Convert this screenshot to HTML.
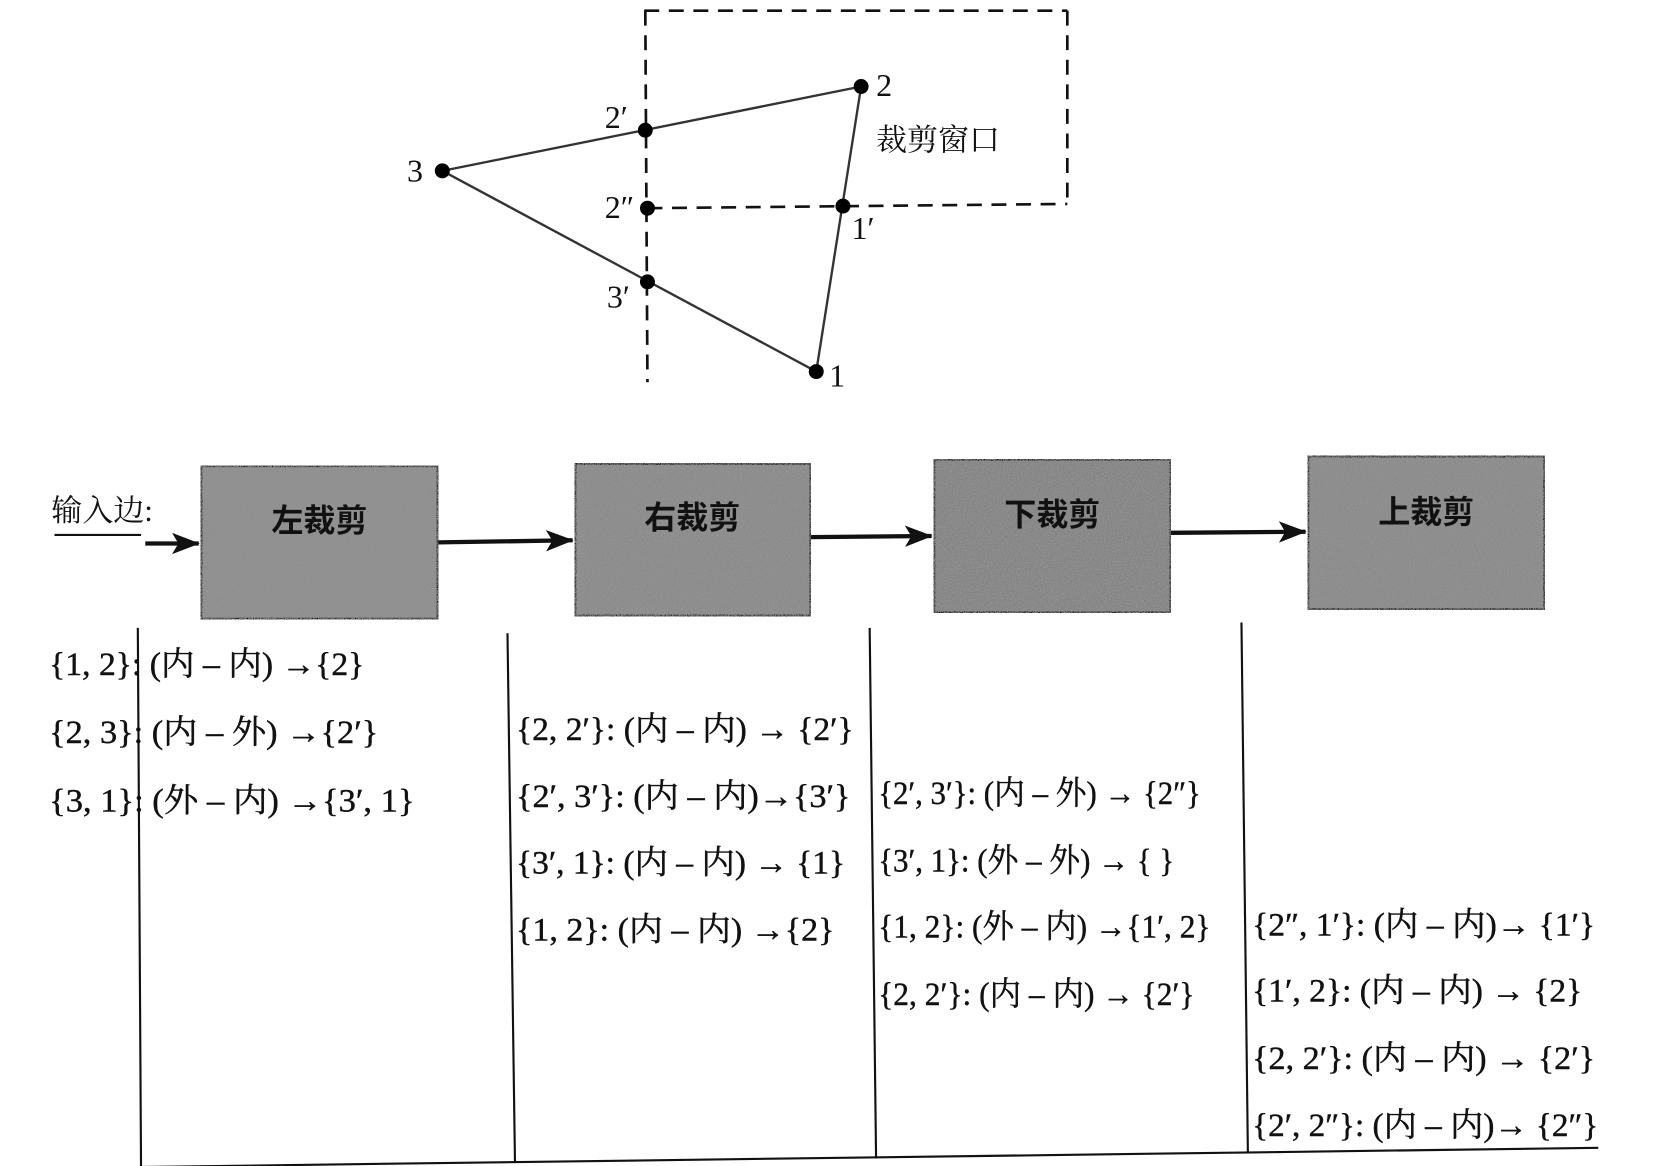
<!DOCTYPE html>
<html><head><meta charset="utf-8"><title>Clipping diagram</title>
<style>
html,body{margin:0;padding:0;background:#fff;}
svg{display:block;}
text{font-family:"Liberation Serif","Noto Serif CJK SC","Noto Sans CJK SC",serif;fill:#111;}
</style></head>
<body>
<svg width="1656" height="1166" viewBox="0 0 1550 1092" preserveAspectRatio="none" xmlns="http://www.w3.org/2000/svg">
<defs>
  <filter id="noise" x="0" y="0" width="100%" height="100%">
    <feTurbulence type="fractalNoise" baseFrequency="0.9" numOctaves="2" seed="4" result="t"/>
    <feColorMatrix type="matrix" values="0 0 0 0 0.3  0 0 0 0 0.3  0 0 0 0 0.3  0 0 0 2 -0.6" in="t" result="n"/>
    <feComposite in="n" in2="SourceGraphic" operator="in" result="m"/>
    <feMerge><feMergeNode in="SourceGraphic"/><feMergeNode in="m"/></feMerge>
  </filter>
  <marker id="arrb" markerWidth="26" markerHeight="20" refX="25" refY="10" orient="auto" markerUnits="userSpaceOnUse">
    <path d="M0,0 L26,10 L0,20 L6,10 Z" fill="#111"/>
  </marker>
</defs>
<g transform="translate(-4,-2)">
<g stroke="#111" stroke-width="2.5" stroke-dasharray="14,9" fill="none">
  <line x1="607" y1="12" x2="1003" y2="12"/>
  <line x1="1003" y1="12" x2="1003" y2="193"/>
  <line x1="610" y1="197" x2="1003" y2="193"/>
  <line x1="608" y1="12" x2="610" y2="360"/>
</g>
<text x="824" y="143" font-size="29">裁剪窗口</text>

<g stroke="#333" stroke-width="2.2" fill="none">
  <line x1="418" y1="162" x2="810" y2="83"/>
  <line x1="810" y1="83" x2="768" y2="350"/>
  <line x1="768" y1="350" x2="418" y2="162"/>
</g>
<g fill="#000">
  <circle cx="810" cy="83" r="7"/><circle cx="608" cy="124" r="7"/>
  <circle cx="418" cy="162" r="7"/><circle cx="610" cy="197" r="7"/>
  <circle cx="793" cy="195" r="7"/><circle cx="610" cy="266" r="7"/>
  <circle cx="768" cy="350" r="7"/>
</g>
<g font-size="30">
  <text x="824" y="92">2</text>
  <text x="570" y="122">2′</text>
  <text x="385" y="172">3</text>
  <text x="570" y="206">2″</text>
  <text x="801" y="226">1′</text>
  <text x="572" y="290">3′</text>
  <text x="780" y="364">1</text>
</g>

<text x="52" y="490" font-size="29">输入边:</text>
<line x1="55" y1="503" x2="136" y2="503" stroke="#111" stroke-width="2"/>

<g stroke="#111" stroke-width="4">
  <line x1="140" y1="511" x2="190" y2="511" marker-end="url(#arrb)"/>
  <line x1="414" y1="510" x2="540" y2="508" marker-end="url(#arrb)"/>
  <line x1="763" y1="505" x2="876" y2="504" marker-end="url(#arrb)"/>
  <line x1="1100" y1="501" x2="1226" y2="500" marker-end="url(#arrb)"/>
</g>

<g>
  <rect x="192" y="438" width="222" height="144" fill="#8e8e8e" stroke="#111" stroke-width="3" filter="url(#noise)"/>
  <text x="303" y="500" font-size="30" font-weight="bold" text-anchor="middle" style="font-family:'Noto Sans CJK SC',sans-serif">左裁剪</text>
</g>
<g>
  <rect x="542" y="436" width="221" height="143" fill="#8a8a8a" stroke="#111" stroke-width="3" filter="url(#noise)"/>
  <text x="652" y="497" font-size="30" font-weight="bold" text-anchor="middle" style="font-family:'Noto Sans CJK SC',sans-serif">右裁剪</text>
</g>
<g>
  <rect x="878" y="432" width="222" height="144" fill="#828282" stroke="#111" stroke-width="3" filter="url(#noise)"/>
  <text x="989" y="494" font-size="30" font-weight="bold" text-anchor="middle" style="font-family:'Noto Sans CJK SC',sans-serif">下裁剪</text>
</g>
<g>
  <rect x="1228" y="429" width="222" height="144" fill="#8a8a8a" stroke="#111" stroke-width="3" filter="url(#noise)"/>
  <text x="1339" y="492" font-size="30" font-weight="bold" text-anchor="middle" style="font-family:'Noto Sans CJK SC',sans-serif">上裁剪</text>
</g>

<g stroke="#111" stroke-width="2">
  <line x1="133" y1="590" x2="136" y2="1095"/>
  <line x1="479" y1="595" x2="486" y2="1090"/>
  <line x1="818" y1="590" x2="824" y2="1087"/>
  <line x1="1166" y1="585" x2="1172" y2="1082"/>
  <line x1="57" y1="1096" x2="1500" y2="1077"/>
</g>

<g font-size="31" stroke="#111" stroke-width="0.4">
  <text x="50" y="634" textLength="295" lengthAdjust="spacingAndGlyphs">{1, 2}: (内 – 内)  →{2}</text>
  <text x="50" y="698" textLength="308" lengthAdjust="spacingAndGlyphs">{2, 3}: (内 – 外)  →{2′}</text>
  <text x="50" y="762" textLength="342" lengthAdjust="spacingAndGlyphs">{3, 1}: (外 – 内)  →{3′, 1}</text>
</g>
<g font-size="31" stroke="#111" stroke-width="0.4">
  <text x="487" y="695" textLength="316" lengthAdjust="spacingAndGlyphs">{2, 2′}: (内 – 内) → {2′}</text>
  <text x="487" y="758" textLength="313" lengthAdjust="spacingAndGlyphs">{2′, 3′}: (内 – 内)→{3′}</text>
  <text x="487" y="820" textLength="308" lengthAdjust="spacingAndGlyphs">{3′, 1}: (内 – 内) → {1}</text>
  <text x="487" y="883" textLength="298" lengthAdjust="spacingAndGlyphs">{1, 2}: (内 – 内)  →{2}</text>
</g>
<g font-size="31" stroke="#111" stroke-width="0.4">
  <text x="826" y="755" textLength="302" lengthAdjust="spacingAndGlyphs">{2′, 3′}: (内 – 外) → {2″}</text>
  <text x="826" y="818" textLength="277" lengthAdjust="spacingAndGlyphs">{3′, 1}: (外 – 外) → { }</text>
  <text x="826" y="880" textLength="311" lengthAdjust="spacingAndGlyphs">{1, 2}: (外 – 内) →{1′, 2}</text>
  <text x="826" y="943" textLength="296" lengthAdjust="spacingAndGlyphs">{2, 2′}: (内 – 内) → {2′}</text>
</g>
<g font-size="31" stroke="#111" stroke-width="0.4">
  <text x="1176" y="878" textLength="321" lengthAdjust="spacingAndGlyphs">{2″, 1′}: (内 – 内)→ {1′}</text>
  <text x="1176" y="940" textLength="309" lengthAdjust="spacingAndGlyphs">{1′, 2}: (内 – 内) → {2}</text>
  <text x="1176" y="1003" textLength="321" lengthAdjust="spacingAndGlyphs">{2, 2′}: (内 – 内) → {2′}</text>
  <text x="1176" y="1066" textLength="324" lengthAdjust="spacingAndGlyphs">{2′, 2″}: (内 – 内)→ {2″}</text>
</g>
</g>
</svg>
</body></html>
